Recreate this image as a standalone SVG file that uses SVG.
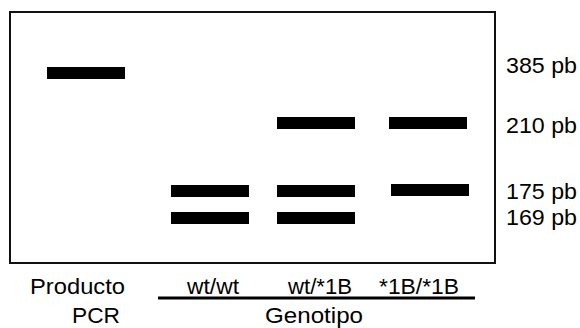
<svg xmlns="http://www.w3.org/2000/svg" width="580" height="328" viewBox="0 0 580 328">
<style>
.band{fill:#000}
.t{font-family:"Liberation Sans",Arial,sans-serif;font-size:22px;fill:#000}
</style>
<rect width="580" height="328" fill="#fff"/>
<g id="gel">
<rect x="10" y="12" width="485" height="251" fill="none" stroke="#111" stroke-width="2"/>
</g>
<g id="lane-pcr">
<rect class="band" x="47" y="67" width="78" height="12"/>
</g>
<g id="lane-wtwt">
<rect class="band" x="171" y="185" width="78" height="12"/>
<rect class="band" x="171" y="212" width="78" height="12"/>
</g>
<g id="lane-wt1b">
<rect class="band" x="277" y="117" width="78" height="12"/>
<rect class="band" x="277" y="185" width="78" height="12"/>
<rect class="band" x="277" y="212" width="78" height="12"/>
</g>
<g id="lane-1b1b">
<rect class="band" x="389" y="117" width="78" height="12"/>
<rect class="band" x="391" y="184" width="78" height="12"/>
</g>
<g id="sizes">
<text class="t" x="506" y="73" textLength="71" lengthAdjust="spacingAndGlyphs">385 pb</text>
<text class="t" x="506" y="133" textLength="71" lengthAdjust="spacingAndGlyphs">210 pb</text>
<text class="t" x="506" y="199" textLength="71" lengthAdjust="spacingAndGlyphs">175 pb</text>
<text class="t" x="506" y="225" textLength="71" lengthAdjust="spacingAndGlyphs">169 pb</text>
</g>
<g id="label-pcr">
<text class="t" x="30" y="294" textLength="95" lengthAdjust="spacingAndGlyphs">Producto</text>
<text class="t" x="72" y="323" textLength="48" lengthAdjust="spacingAndGlyphs">PCR</text>
</g>
<g id="label-genotipo">
<text class="t" x="187" y="294" textLength="52" lengthAdjust="spacingAndGlyphs">wt/wt</text>
<text class="t" x="288" y="294" textLength="64" lengthAdjust="spacingAndGlyphs">wt/*1B</text>
<text class="t" x="379" y="294" textLength="80" lengthAdjust="spacingAndGlyphs">*1B/*1B</text>
<text class="t" x="265" y="323" textLength="98" lengthAdjust="spacingAndGlyphs">Genotipo</text>
</g>
<g id="connectors">
<line x1="158" y1="298" x2="475" y2="298" stroke="#000" stroke-width="3"/>
</g>
</svg>
